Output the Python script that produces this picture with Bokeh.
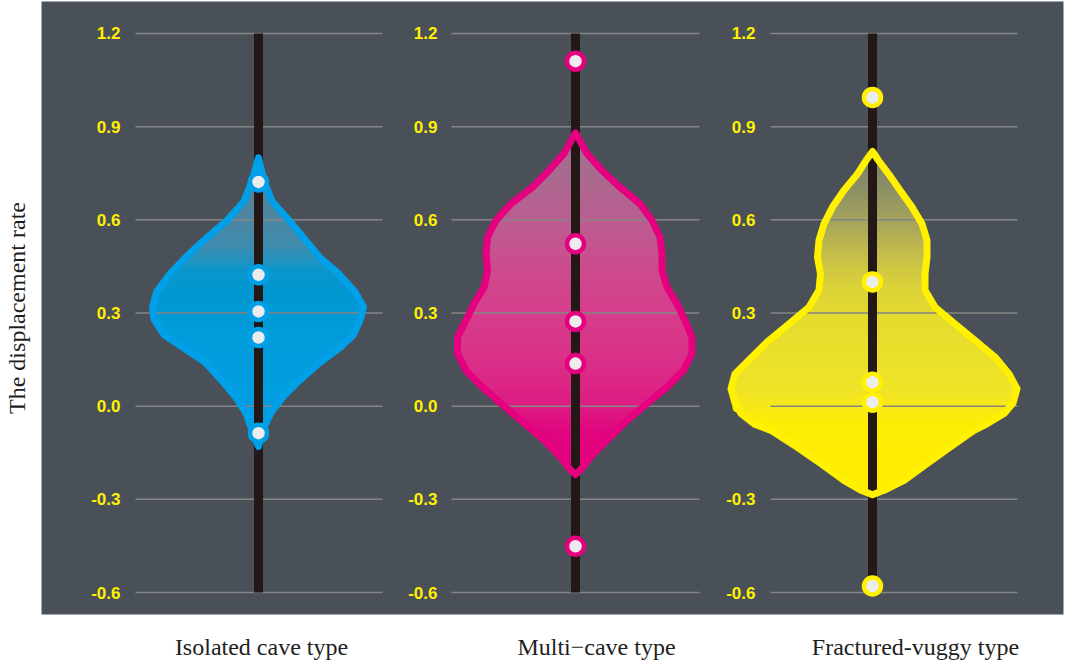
import numpy as np
from bokeh.plotting import figure
from bokeh.models import Range1d, FixedTicker
from bokeh.embed import file_html
from bokeh.resources import INLINE
from bokeh.core.properties import value

# ---------------- data ----------------
categories = ["Isolated cave type", "Multi\u2212cave type", "Fractured-vuggy type"]
tick_values = [-0.6, -0.3, 0.0, 0.3, 0.6, 0.9, 1.2]
tick_labels = ["-0.6", "-0.3", "0.0", "0.3", "0.6", "0.9", "1.2"]

isolated_points = [0.722, 0.423, 0.305, 0.221, -0.087]
multi_points = [1.111, 0.523, 0.273, 0.137, -0.451]
fractured_points = [0.994, 0.400, 0.077, 0.013, -0.579]

line_low = [-0.6, -0.6, -0.6]
line_high = [1.2, 1.2, 1.2]

# violin outlines: y level and half-width (density, px) on left / right side
isolated_y = [0.80, 0.73, 0.66, 0.60, 0.53, 0.48, 0.43, 0.37, 0.32, 0.28, 0.23,
              0.19, 0.14, 0.08, 0.03, -0.02, -0.08, -0.13]
isolated_left = [0, 6, 14.5, 31, 56, 72.5, 87.5, 101.5, 106, 104.5, 94.5,
                 76, 53, 36, 23, 13, 6, 0]
isolated_right = [0, 5, 13.5, 30, 48, 61, 79, 96, 105, 102, 95,
                  82, 61, 40, 24.5, 12.5, 4, 0]

multi_y = [0.88, 0.813, 0.759, 0.705, 0.652, 0.598, 0.544, 0.491, 0.437, 0.383,
           0.330, 0.276, 0.222, 0.169, 0.115, 0.061, 0.008, -0.046, -0.100,
           -0.153, -0.207, -0.22]
multi_left = [0, 11.5, 26.5, 43, 64.5, 79.5, 88, 89.5, 88, 91.5,
              101.5, 109.5, 118, 118, 109.5, 93, 74.5, 54.5, 34.5,
              18, 4.5, 0]
multi_right = [0, 11.5, 26.5, 44.5, 64.5, 76.5, 84.5, 86.5, 86.5, 91.5,
               101.5, 109.5, 116.5, 116.5, 108, 91.5, 71.5, 51.5, 34.5,
               18, 4.5, 0]

fractured_y = [0.82, 0.791, 0.748, 0.695, 0.641, 0.587, 0.534, 0.480, 0.426,
               0.373, 0.319, 0.265, 0.212, 0.158, 0.104, 0.056, 0.010, -0.024,
               -0.057, -0.078, -0.132, -0.185, -0.239, -0.271, -0.285]
fractured_left = [0, 6.5, 15, 28.5, 40, 48.5, 53.5, 55, 52,
                  53.5, 63.5, 83.5, 103.5, 120.5, 137.5, 141.5, 137.5, 131.5,
                  118.5, 101.5, 75.5, 51.5, 28.5, 11.5, 0]
fractured_right = [0, 6, 16, 27.5, 39.5, 49.5, 54.5, 54.5, 52.5,
                   52.5, 62.5, 82.5, 102.5, 122.5, 136.5, 144.5, 140.5, 131.5,
                   114.5, 101.5, 77.5, 54.5, 31.5, 11.5, 0]

# ---------------- layout / style ----------------
BG = "#4a5058"
FRAME_W = 1022
centers = [217, 534, 831]
grid_x0 = [94, 410, 729]
grid_x1 = [341, 658, 976]
label_x = [79, 396, 714]
cat_x = [220, 555, 874]
strokes = ["#00a0e9", "#e4007f", "#fff100"]

grad_stops = [
    ([0.80, 0.62, 0.52, 0.47, 0.44, 0.35, 0.20, -0.13],
     ["#5a8196", "#4f85a1", "#3f8cad", "#2392bf", "#0996cb", "#0098d2", "#009cdc", "#009fe3"]),
    ([0.88, 0.75, 0.60, 0.45, 0.30, 0.15, 0.0, -0.08, -0.22],
     ["#9e7090", "#a86a8e", "#bb5e90", "#cc4b8e", "#d63d8b", "#da3088", "#dd1c83", "#e1057f", "#e4007f"]),
    ([0.82, 0.70, 0.60, 0.50, 0.40, 0.30, 0.15, 0.05, 0.0, -0.05, -0.29],
     ["#7b7f6c", "#8d8f66", "#a5a35d", "#c2bc4c", "#d8d03a", "#e3da2e", "#ebe02a", "#f0e426", "#f7e818", "#fdec05", "#ffee00"]),
]

violins = [
    (isolated_y, isolated_left, isolated_right, isolated_points),
    (multi_y, multi_left, multi_right, multi_points),
    (fractured_y, fractured_left, fractured_right, fractured_points),
]


def hex2rgb(h):
    return [int(h[i:i + 2], 16) for i in (1, 3, 5)]


def grad(vs, stop_v, stop_c):
    sv = np.asarray(stop_v, float)
    rgb = np.array([hex2rgb(c) for c in stop_c], float)
    o = np.argsort(sv)
    sv, rgb = sv[o], rgb[o]
    out = []
    for v in vs:
        r = [np.interp(v, sv, rgb[:, k]) for k in range(3)]
        out.append("#%02x%02x%02x" % tuple(int(round(x)) for x in r))
    return out


def band_polys(c, ys, L, R, step=0.008):
    ys = np.asarray(ys, float)
    L = np.asarray(L, float)
    R = np.asarray(R, float)
    o = np.argsort(ys)
    ys, L, R = ys[o], L[o], R[o]
    edges = list(np.arange(ys[0], ys[-1], step)) + [ys[-1]]
    xs_l, ys_l, mids = [], [], []
    for e0, e1 in zip(edges[:-1], edges[1:]):
        lo = max(e0 - 0.002, ys[0])
        hi = min(e1 + 0.002, ys[-1])
        inner = ys[(ys > lo) & (ys < hi)]
        yy = np.concatenate([[lo], inner, [hi]])
        lx = c - np.interp(yy, ys, L)
        rx = c + np.interp(yy, ys, R)
        xs_l.append(np.concatenate([lx, rx[::-1]]).tolist())
        ys_l.append(np.concatenate([yy, yy[::-1]]).tolist())
        mids.append(0.5 * (e0 + e1))
    return xs_l, ys_l, mids


p = figure(width=1064, height=662,
           x_range=Range1d(0, FRAME_W), y_range=Range1d(-0.6708, 1.3030),
           output_backend="svg", toolbar_location=None,
           min_border_left=41, min_border_right=1, min_border_top=1, min_border_bottom=48,
           background_fill_color=BG, border_fill_color="white", outline_line_color=None)
p.xgrid.visible = False
p.ygrid.visible = False

# y axis: only the title
p.yaxis.ticker = FixedTicker(ticks=[])
p.yaxis.axis_label = "The displacement rate"
p.yaxis.axis_label_text_font = "Liberation Serif"
p.yaxis.axis_label_text_font_size = "24px"
p.yaxis.axis_label_text_font_style = "normal"
p.yaxis.axis_label_text_color = "#1e1e1e"
p.yaxis.axis_label_standoff = 12
p.yaxis.axis_line_color = None
p.yaxis.major_tick_line_color = None
p.yaxis.major_tick_out = 0
p.yaxis.major_tick_in = 0
p.yaxis.minor_tick_line_color = None
p.yaxis.major_label_text_font_size = "0px"
p.yaxis.major_label_standoff = 0

# x axis: category names
p.xaxis.ticker = FixedTicker(ticks=cat_x)
p.xaxis.major_label_overrides = {x: c for x, c in zip(cat_x, categories)}
p.xaxis.major_label_text_font = "Liberation Serif"
p.xaxis.major_label_text_font_size = "24px"
p.xaxis.major_label_text_color = "#1e1e1e"
p.xaxis.major_label_standoff = 19
p.xaxis.major_tick_line_color = None
p.xaxis.major_tick_out = 0
p.xaxis.major_tick_in = 0
p.xaxis.minor_tick_line_color = None
p.xaxis.axis_line_color = None

# per-panel tick labels (under the violins)
for i in range(3):
    p.text(x=[label_x[i]] * len(tick_values), y=tick_values, text=tick_labels,
           text_align="right", text_baseline="middle",
           text_font=value("Liberation Sans"), text_font_style="bold",
           text_font_size="17px", text_color="#fff100")

# violin fills with vertical gradient
for i, (vy, vl, vr, pts) in enumerate(violins):
    xs_l, ys_l, mids = band_polys(centers[i], vy, vl, vr)
    cols = grad(mids, *grad_stops[i])
    p.patches(xs=xs_l, ys=ys_l, fill_color=cols, line_color=None)

# panel grid lines
for i in range(3):
    p.segment(x0=[grid_x0[i]] * len(tick_values), y0=tick_values,
              x1=[grid_x1[i]] * len(tick_values), y1=tick_values,
              line_color="#858585", line_width=1.5)

# central dark lines
p.segment(x0=centers, y0=line_low, x1=centers, y1=line_high,
          line_color="#231815", line_width=9, line_cap="butt")

# outlines + points
for i, (vy, vl, vr, pts) in enumerate(violins):
    c = centers[i]
    ox = [c - w for w in vl] + [c + w for w in vr[::-1]]
    oy = list(vy) + list(vy[::-1])
    p.patch(x=ox, y=oy, fill_color=None, line_color=strokes[i], line_width=7,
            line_join="round")
    p.scatter(x=[c] * len(pts), y=pts, size=17, fill_color="#ececec",
              line_color=strokes[i], line_width=4.5)

open("out.html", "w").write(file_html(p, INLINE))
